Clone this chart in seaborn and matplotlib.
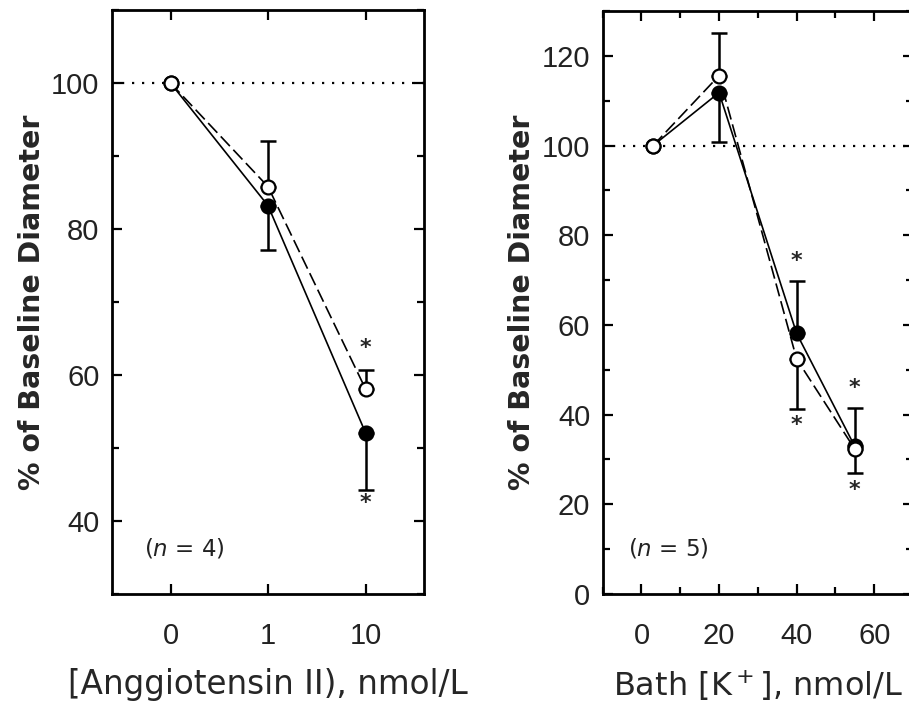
import matplotlib
matplotlib.use("Agg")
import matplotlib.pyplot as plt
import seaborn as sns
import pandas as pd
from matplotlib.ticker import MultipleLocator

# ---------------- data ----------------
# Left panel: Angiotensin II (categorical doses)
ang_labels = ["0", "1", "10"]
ang_open = [100, 85.8, 58.1]
ang_open_err_up = [0, 6.3, 2.6]
ang_filled = [100, 83.2, 52.1]
ang_filled_err_dn = [0, 6.1, 7.8]
ang_star_x = [2, 2]
ang_star_y = [63.7, 42.4]

# Right panel: Bath [K+]
k_x = [3, 20, 40, 55]
k_open = [100, 115.6, 52.4, 32.3]
k_open_err_up = [0, 9.6, 0, 0]
k_open_err_dn = [0, 0, 11.2, 5.4]
k_filled = [100, 111.8, 58.1, 32.9]
k_filled_err_up = [0, 0, 11.7, 8.5]
k_filled_err_dn = [0, 11.0, 0, 0]
k_star_x = [40, 40, 55, 55]
k_star_y = [74.2, 37.6, 45.9, 23.2]

sns.set_style("ticks")
plt.rcParams["font.family"] = ["DejaVu Sans"]
plt.rcParams["mathtext.fontset"] = "dejavusans"

W, H = 909, 706
fig = plt.figure(figsize=(W / 100, H / 100), dpi=100)

def frac(x0, y0, x1, y1):
    return [x0 / W, 1 - y1 / H, (x1 - x0) / W, (y1 - y0) / H]

axL = fig.add_axes(frac(112, 10, 424, 594))
axR = fig.add_axes(frac(602.7, 11, 913, 594))

tick_font = dict(family="Liberation Sans", size=21)
tick_color = "#222222"


def style_axes(ax):
    for s in ax.spines.values():
        s.set_linewidth(2.0)
        s.set_color("black")
        s.set_visible(True)
    ax.tick_params(which="both", direction="in", top=True, right=True,
                   width=1.6, color="black", labelcolor=tick_color)
    ax.tick_params(which="major", length=7)
    ax.tick_params(which="minor", length=5)
    ax.tick_params(axis="y", pad=9)
    ax.tick_params(axis="x", pad=20)
    for lab in ax.get_xticklabels() + ax.get_yticklabels():
        lab.set_fontfamily(tick_font["family"])
        lab.set_fontsize(tick_font["size"])


def draw_series(ax, x, y, err_lo, err_hi, filled, dashed, z):
    df = pd.DataFrame({"x": x, "y": y})
    sns.lineplot(data=df, x="x", y="y", ax=ax, color="black", lw=1.2,
                 linestyle=(0, (8, 3)) if dashed else "-", zorder=z,
                 marker="o", markersize=10, markeredgewidth=1.6,
                 markeredgecolor="black",
                 markerfacecolor="black" if filled else "white",
                 legend=False, estimator=None, sort=False)
    for xi, yi, lo, hi in zip(x, y, err_lo, err_hi):
        if lo == 0 and hi == 0:
            continue
        ax.errorbar([xi], [yi], yerr=[[lo], [hi]], fmt="none", ecolor="black",
                    elinewidth=1.8, capsize=5.5, capthick=1.8, zorder=z - 1)


# ---------- Left panel ----------
pos = list(range(len(ang_labels)))
axL.axhline(100, color="black", lw=1.6, linestyle=(0, (1, 3.5)), zorder=1)
draw_series(axL, pos, ang_filled, ang_filled_err_dn, [0] * 3, True, False, 4)
draw_series(axL, pos, ang_open, [0] * 3, ang_open_err_up, False, True, 6)
for sx, sy in zip(ang_star_x, ang_star_y):
    axL.text(sx, sy, "*", ha="center", va="center", fontsize=16,
             fontweight="bold", family="DejaVu Sans")
axL.set_xlim(-0.6, 2.6)
axL.set_ylim(30, 110)
axL.set_xticks(pos)
axL.set_xticklabels(ang_labels)
axL.set_yticks([40, 60, 80, 100])
axL.yaxis.set_minor_locator(MultipleLocator(10))
axL.text(-0.27, 36.3, r"($n$ = 4)", fontsize=16.5, va="center", ha="left",
         color="#222222")
axL.set_xlabel("[Anggiotensin II), nmol/L", fontsize=23.5, labelpad=13)
axL.set_ylabel("% of Baseline Diameter", fontsize=20.5, fontweight="bold",
               labelpad=4)
style_axes(axL)

# ---------- Right panel ----------
axR.axhline(100, color="black", lw=1.6, linestyle=(0, (1, 3.5)), zorder=1)
draw_series(axR, k_x, k_filled, k_filled_err_dn, k_filled_err_up, True, False, 4)
draw_series(axR, k_x, k_open, k_open_err_dn, k_open_err_up, False, True, 6)
for sx, sy in zip(k_star_x, k_star_y):
    axR.text(sx, sy, "*", ha="center", va="center", fontsize=16,
             fontweight="bold", family="DejaVu Sans")
axR.set_xlim(-10, 70)
axR.set_ylim(0, 130)
axR.set_xticks([0, 20, 40, 60])
axR.xaxis.set_minor_locator(MultipleLocator(10))
axR.set_yticks([0, 20, 40, 60, 80, 100, 120])
axR.yaxis.set_minor_locator(MultipleLocator(10))
axR.text(-3.5, 10.2, r"($n$ = 5)", fontsize=16.5, va="center", ha="left",
         color="#222222")
axR.set_xlabel(r"Bath [K$^+$], nmol/L", fontsize=23, labelpad=13)
axR.set_ylabel("% of Baseline Diameter", fontsize=20.5, fontweight="bold",
               labelpad=4)
style_axes(axR)

fig.savefig("out.png", dpi=100)
